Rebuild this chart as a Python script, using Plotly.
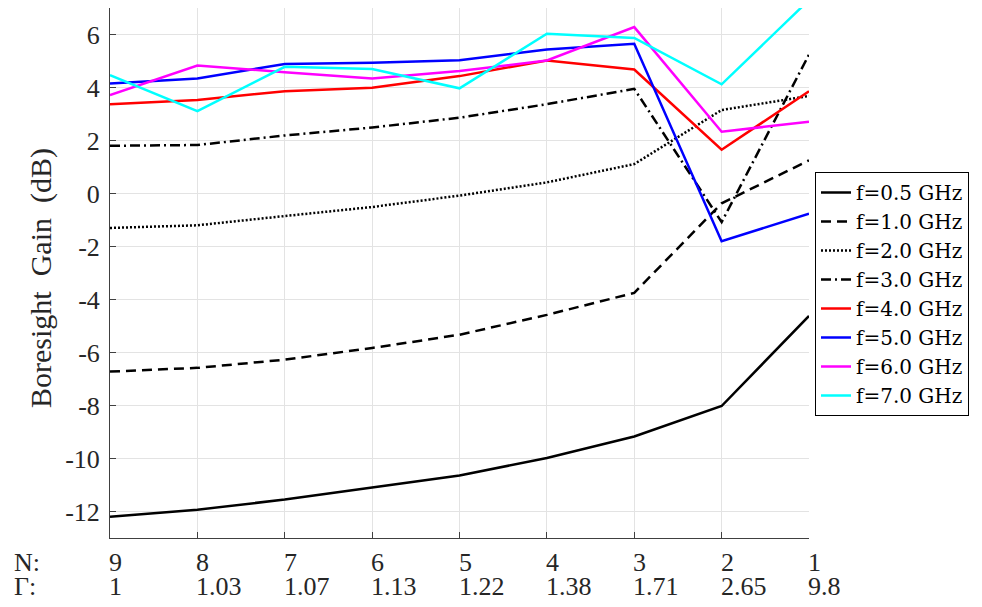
import plotly.graph_objects as go

N = [9, 8, 7, 6, 5, 4, 3, 2, 1]
N_labels = ["9", "8", "7", "6", "5", "4", "3", "2", "1"]
gamma_labels = ["1", "1.03", "1.07", "1.13", "1.22", "1.38", "1.71", "2.65", "9.8"]
y_ticks = [-12, -10, -8, -6, -4, -2, 0, 2, 4, 6]

g05 = [-12.2, -11.93, -11.55, -11.1, -10.64, -9.98, -9.17, -8.02, -4.62]
g10 = [-6.72, -6.58, -6.27, -5.83, -5.33, -4.58, -3.75, -0.37, 1.25]
g20 = [-1.3, -1.2, -0.85, -0.51, -0.08, 0.42, 1.11, 3.15, 3.68]
g30 = [1.8, 1.83, 2.19, 2.49, 2.86, 3.37, 3.95, -1.08, 5.24]
g40 = [3.37, 3.53, 3.86, 3.99, 4.43, 5.02, 4.68, 1.65, 3.86]
g50 = [4.15, 4.34, 4.89, 4.93, 5.03, 5.43, 5.65, -1.8, -0.76]
g60 = [3.71, 4.83, 4.58, 4.34, 4.62, 5.02, 6.28, 2.33, 2.71]
g70 = [4.47, 3.11, 4.78, 4.7, 3.97, 6.03, 5.87, 4.12, 7.3]

series_names = ["f=0.5 GHz", "f=1.0 GHz", "f=2.0 GHz", "f=3.0 GHz",
                "f=4.0 GHz", "f=5.0 GHz", "f=6.0 GHz", "f=7.0 GHz"]
series_vals = [g05, g10, g20, g30, g40, g50, g60, g70]
colors = ["#000000", "#000000", "#000000", "#000000",
          "#ff0000", "#0000ff", "#ff00ff", "#00ffff"]
dashes = ["solid", "10px,6px", "2px,2px", "10px,4px,2px,4px",
          "solid", "solid", "solid", "solid"]

FONT = "'Liberation Serif', 'DejaVu Serif', serif"
LFONT = "'DejaVu Serif', 'Liberation Serif', serif"
TXT = "#262626"

fig = go.Figure()
for name, vals, c, d in zip(series_names, series_vals, colors, dashes):
    fig.add_trace(go.Scatter(x=N, y=vals, mode="lines", name=name,
                             line=dict(color=c, width=2.5, dash=d)))

# page body has an 8px margin: figure coordinates = page coordinates - 8
OFF = 8
W, H = 982 - OFF, 607 - OFF
L = 110 - OFF
T = 0
plot_right = 809 - OFF
plot_bottom = 538 - OFF
R = W - plot_right
B = H - plot_bottom
pw = W - L - R
ph = H - T - B

fig.update_layout(
    width=W, height=H,
    margin=dict(l=L, r=R, t=T, b=B, pad=0),
    paper_bgcolor="white", plot_bgcolor="white",
    font=dict(family=FONT, size=26, color=TXT),
    showlegend=True,
    legend=dict(x=(815 - OFF - L) / pw, y=(plot_bottom - (172 - OFF)) / ph,
                xanchor="left", yanchor="top",
                bordercolor="#000000", borderwidth=1, bgcolor="white",
                font=dict(family=LFONT, size=20, color="#000000"),
                tracegroupgap=0, itemwidth=30),
)
fig.update_xaxes(range=[9, 1], tickvals=N, showticklabels=False,
                 showgrid=True, gridcolor="#e3e3e3", gridwidth=1,
                 showline=True, linecolor="#404040", linewidth=1,
                 ticks="inside", ticklen=6, tickcolor="#404040",
                 zeroline=False, mirror=False)
fig.update_yaxes(range=[-13, 7], tickvals=y_ticks,
                 ticktext=[str(v) for v in y_ticks],
                 showgrid=True, gridcolor="#e3e3e3", gridwidth=1,
                 showline=True, linecolor="#404040", linewidth=1,
                 ticks="inside", ticklen=6, tickcolor="#404040",
                 ticklabelstandoff=4,
                 tickfont=dict(family=FONT, size=26, color=TXT),
                 zeroline=False, mirror=False)

ann = []
for xv, nl, gl in zip(N, N_labels, gamma_labels):
    ann.append(dict(x=xv, xref="x", y=0, yref="paper", text=nl, showarrow=False,
                    xanchor="left", yanchor="middle", yshift=-24, xshift=-3,
                    font=dict(family=FONT, size=26, color=TXT)))
    ann.append(dict(x=xv, xref="x", y=0, yref="paper", text=gl, showarrow=False,
                    xanchor="left", yanchor="middle", yshift=-48, xshift=-3,
                    font=dict(family=FONT, size=26, color=TXT)))
ann.append(dict(x=(12 - OFF - L) / pw, xref="paper", y=0, yref="paper", text="N:",
                showarrow=False, xanchor="left", yanchor="middle", yshift=-24,
                font=dict(family=FONT, size=26, color=TXT)))
ann.append(dict(x=(12 - OFF - L) / pw, xref="paper", y=0, yref="paper", text="Γ:",
                showarrow=False, xanchor="left", yanchor="middle", yshift=-48,
                font=dict(family=FONT, size=26, color=TXT)))
ann.append(dict(x=(41 - OFF - L) / pw, xref="paper",
                y=(plot_bottom - (278 - OFF)) / ph, yref="paper",
                text="Boresight  Gain  (dB)", textangle=-90, showarrow=False,
                xanchor="center", yanchor="middle",
                font=dict(family=FONT, size=30, color=TXT)))
fig.update_layout(annotations=ann)

fig.write_html("out.html")
